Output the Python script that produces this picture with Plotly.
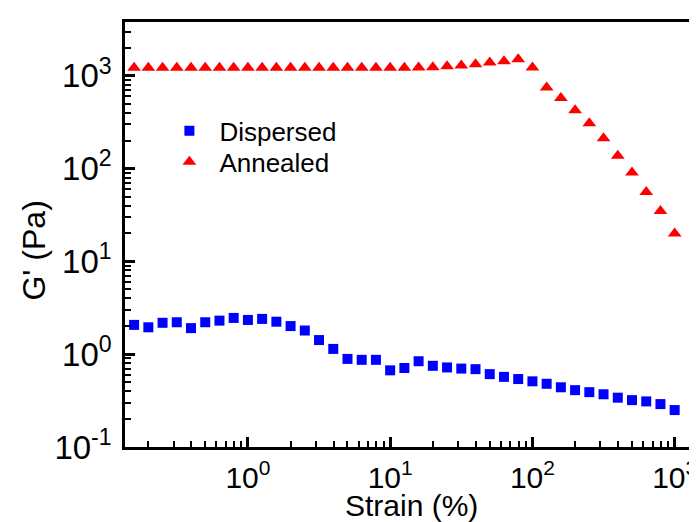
import numpy as np
import plotly.graph_objects as go

# Strain (%) values: 10 points per decade from 10^-0.8 to 10^3
strain_exp = list(range(-8, 31))
strain = [10 ** (e / 10) for e in strain_exp]

dispersed = [2.07, 1.95, 2.18, 2.21, 1.91, 2.21, 2.30, 2.46, 2.34, 2.40,
             2.24, 2.01, 1.80, 1.42, 1.14, 0.89, 0.87, 0.87, 0.67, 0.71,
             0.84, 0.75, 0.72, 0.70, 0.69, 0.61, 0.57, 0.54, 0.51, 0.48,
             0.44, 0.41, 0.39, 0.37, 0.34, 0.32, 0.31, 0.29, 0.25]

annealed = [1220, 1220, 1220, 1220, 1220, 1220, 1220, 1220, 1220, 1220,
            1220, 1220, 1220, 1220, 1220, 1220, 1220, 1220, 1220, 1220,
            1230, 1240, 1270, 1290, 1330, 1390, 1440, 1510, 1230, 750,
            575, 425, 308, 213, 138, 91, 56, 35, 20]

x_tickvals = [1, 10, 100, 1000]
x_ticktext = ["10<sup>0</sup>", "10<sup>1</sup>", "10<sup>2</sup>", "10<sup>3</sup>"]
y_tickvals = [0.1, 1, 10, 100, 1000]
y_ticktext = ["10<sup>-1</sup>", "10<sup>0</sup>", "10<sup>1</sup>", "10<sup>2</sup>", "10<sup>3</sup>"]

x_title = "Strain (%)"
y_title = "G' (Pa)"

x_range = [-0.864, 3.164]
y_range = [-1, 3.58]

fig = go.Figure()
fig.add_trace(go.Scatter(x=strain, y=dispersed, mode="markers", name="Dispersed",
                         marker=dict(symbol="square", size=10, color="#0000FF"),
                         legend="legend"))
fig.add_trace(go.Scatter(x=strain, y=annealed, mode="markers", name="Annealed",
                         marker=dict(symbol="triangle-up", size=12, color="#FF0000"),
                         legend="legend2"))

font = "Liberation Sans, Arial, sans-serif"
minor = dict(ticks="inside", dtick="D1", ticklen=6, tickwidth=2,
             tickcolor="black", showgrid=False)
axis_common = dict(
    showline=True, linecolor="black", linewidth=2.5, mirror=True,
    ticks="inside", ticklen=10, tickwidth=2.5, tickcolor="black",
    showgrid=False, zeroline=False, minor=minor,
)

fig.update_layout(
    xaxis=dict(type="log", range=x_range, tickmode="array",
               tickvals=x_tickvals, ticktext=x_ticktext, ticklabelstandoff=2,
               tickfont=dict(family=font, size=30, color="black"),
               **axis_common),
    yaxis=dict(type="log", range=y_range, tickmode="array",
               tickvals=y_tickvals, ticktext=y_ticktext, ticklabelstandoff=4,
               tickfont=dict(family=font, size=33, color="black"),
               **axis_common),
)

fig.add_annotation(text=x_title, xref="paper", yref="paper", x=0.5, y=-0.182,
                   xanchor="center", yanchor="bottom", showarrow=False,
                   font=dict(family=font, size=30, color="black"))
fig.add_annotation(text=y_title, xref="paper", yref="paper", x=-0.159, y=0.462,
                   xanchor="center", yanchor="middle", showarrow=False, textangle=-90,
                   font=dict(family=font, size=32, color="black"))

legend_style = dict(xanchor="left", yanchor="middle", bgcolor="rgba(0,0,0,0)",
                    font=dict(family=font, size=26, color="black"), itemwidth=50,
                    borderwidth=0)

fig.update_layout(
    width=697, height=522,
    margin=dict(l=117, r=4, t=14, b=83),
    paper_bgcolor="white", plot_bgcolor="white",
    font=dict(family=font, color="black"),
    legend=dict(x=0.06, y=0.744, **legend_style),
    legend2=dict(x=0.06, y=0.671, **legend_style),
    showlegend=True,
)

fig.write_html("out.html")
